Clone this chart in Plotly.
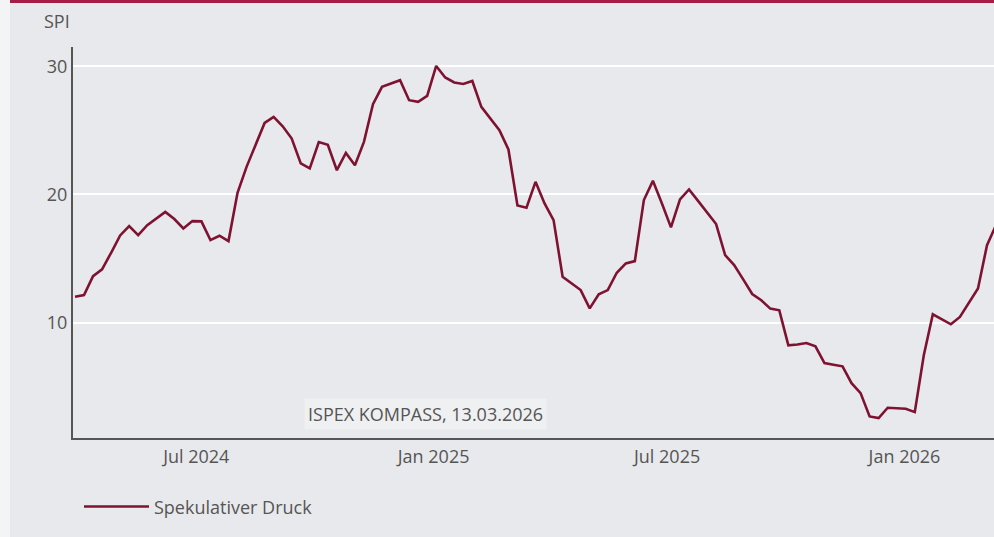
import pandas as pd
import plotly.graph_objects as go

# Weekly readings (Fridays) of the speculative pressure index
week_end = pd.date_range(end="2026-03-13", periods=103, freq="7D")
spi_values = [
    12.02, 12.15, 13.63, 14.15, 15.45, 16.80, 17.53, 16.83, 17.60, 18.13,
    18.64, 18.08, 17.35, 17.92, 17.90, 16.44, 16.78, 16.36, 20.13, 22.15,
    23.84, 25.58, 26.05, 25.32, 24.36, 22.42, 22.03, 24.08, 23.87, 21.89,
    23.24, 22.28, 24.10, 27.04, 28.39, 28.65, 28.91, 27.35, 27.22, 27.69,
    30.02, 29.12, 28.73, 28.62, 28.85, 26.83, 25.92, 25.01, 23.51, 19.14,
    18.96, 20.98, 19.30, 18.00, 13.58, 13.06, 12.54, 11.11, 12.21, 12.54,
    13.89, 14.62, 14.80, 19.56, 21.06, 19.30, 17.43, 19.61, 20.39, 19.50,
    18.57, 17.69, 15.27, 14.49, 13.37, 12.23, 11.75, 11.09, 10.96, 8.23,
    8.30, 8.41, 8.15, 6.84, 6.72, 6.59, 5.28, 4.50, 2.68, 2.55,
    3.36, 3.33, 3.28, 3.02, 7.45, 10.65, 10.26, 9.87, 10.44, 11.53,
    12.66, 16.04, 17.60,
]
series_name = "Spekulativer Druck"
y_ticks = [10, 20, 30]
source_note = "ISPEX KOMPASS, 13.03.2026"
axis_title = "SPI"

BG = "#e8e9ec"
TEXT = "#555555"
LINE = "#7e1331"
ACCENT = "#a51c45"
FONT = "Open Sans"

fig = go.Figure()
fig.add_trace(go.Scatter(
    x=week_end, y=spi_values, mode="lines", name=series_name,
    line=dict(color=LINE, width=2.6),
    showlegend=True,
))

fig.update_layout(
    width=994, height=537,
    margin=dict(l=73, r=0, t=47, b=99),
    paper_bgcolor=BG, plot_bgcolor=BG,
    font=dict(family=FONT, size=18, color=TEXT),
    showlegend=True,
    legend=dict(
        orientation="h", x=0.0065, xanchor="left", y=-0.176, yanchor="middle",
        font=dict(family=FONT, size=18, color=TEXT),
        itemwidth=65, bgcolor="rgba(0,0,0,0)",
    ),
    xaxis=dict(
        type="date",
        range=["2024-03-27 11:00", "2026-03-11 10:00"],
        tick0="2024-01-01", dtick="M6", tickformat="%b %Y",
        showgrid=False, zeroline=False,
        showline=True, linecolor="#555555", linewidth=2,
        ticks="", ticklabelstandoff=1,
        tickfont=dict(family=FONT, size=18, color=TEXT),
    ),
    yaxis=dict(
        range=[1.0, 31.5],
        tickvals=y_ticks,
        showgrid=True, gridcolor="#ffffff", gridwidth=2,
        zeroline=False,
        showline=True, linecolor="#555555", linewidth=2,
        ticks="", ticklabelstandoff=0,
        tickfont=dict(family=FONT, size=18, color=TEXT),
    ),
    annotations=[
        dict(
            text=source_note, xref="paper", yref="paper",
            x=0.383, y=0.061, xanchor="center", yanchor="middle",
            showarrow=False, bgcolor="#eff0f2", borderpad=3,
            font=dict(family=FONT, size=18, color=TEXT),
        ),
        dict(
            text=axis_title, xref="paper", yref="paper",
            x=-0.0015, y=1.066, xanchor="right", yanchor="middle",
            showarrow=False,
            font=dict(family=FONT, size=18, color=TEXT),
        ),
    ],
    shapes=[
        # light page strip on the left edge
        dict(type="rect", xref="paper", yref="paper",
             x0=-0.0793, x1=-0.0684, y0=-0.26, y1=1.13,
             fillcolor="#f3f4f6", line=dict(width=0), layer="below"),
        # accent rule across the top
        dict(type="rect", xref="paper", yref="paper",
             x0=-0.0684, x1=1.0, y0=1.1125, y1=1.1202,
             fillcolor=ACCENT, line=dict(width=0)),
    ],
)

fig.write_html("out.html", config={"displayModeBar": False})
